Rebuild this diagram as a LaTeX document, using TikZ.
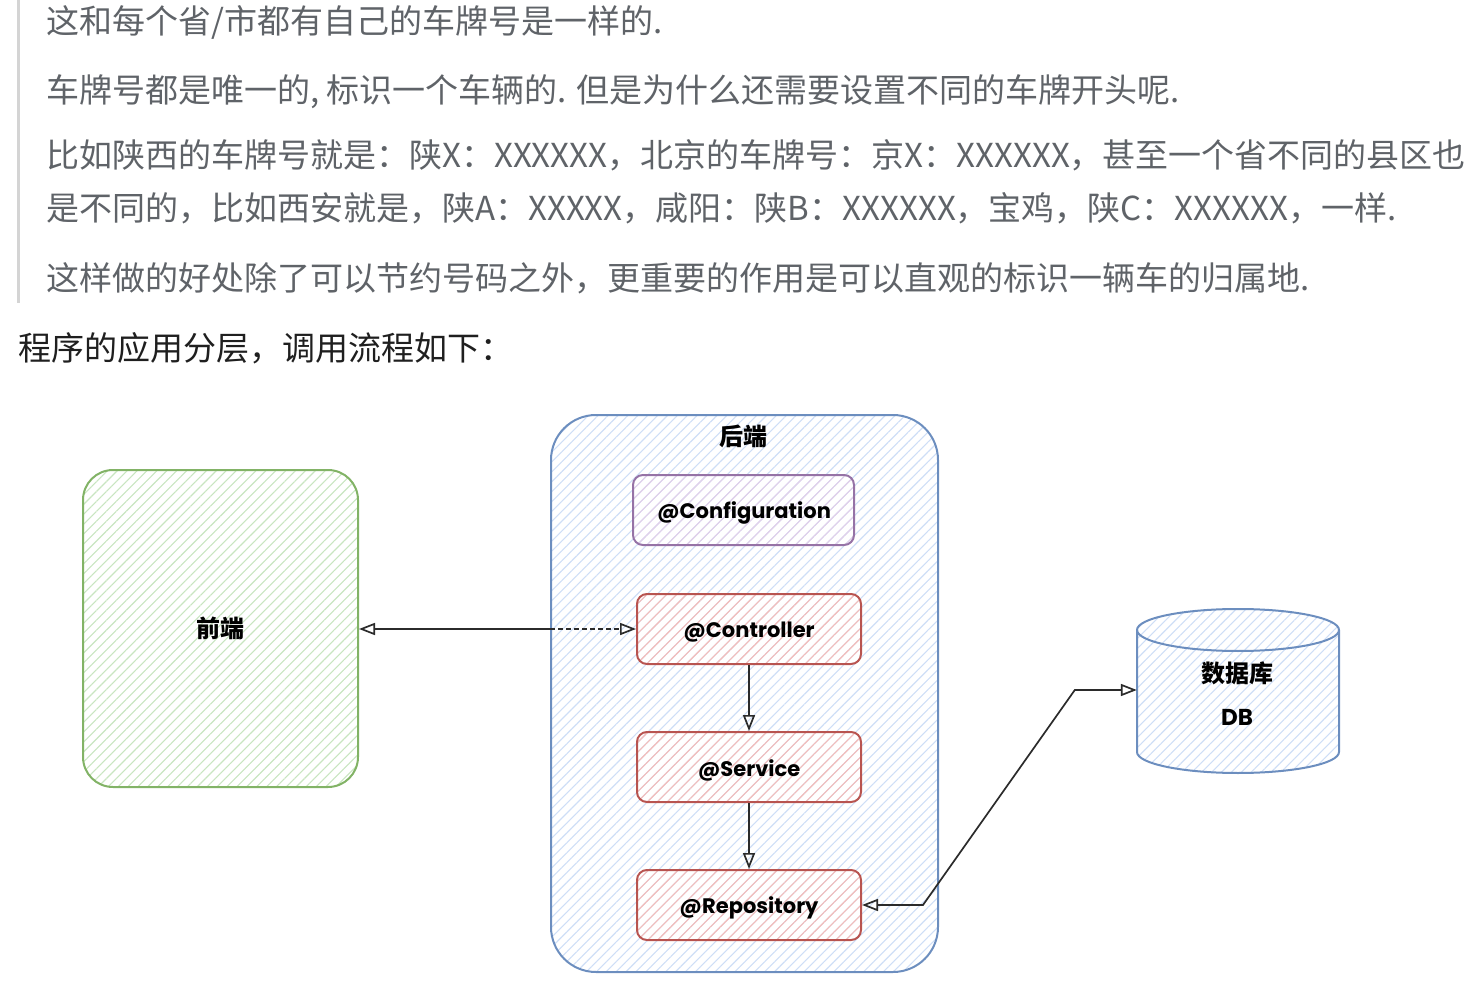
\documentclass[tikz,border=0pt]{standalone}
\usepackage{fontspec}
\newfontfamily\cjk{Noto Sans CJK SC}
\newfontfamily\lbl{Poppins}
\usetikzlibrary{arrows.meta,patterns.meta,calc}
\definecolor{bodygray}{HTML}{5F6368}
\definecolor{headblack}{HTML}{1F1F1F}
\definecolor{barg}{HTML}{D4D4D4}
\definecolor{greenS}{HTML}{82B366}
\definecolor{greenH}{HTML}{C8E5C0}
\definecolor{blueS}{HTML}{6C8EBF}
\definecolor{blueH}{HTML}{CEDEF6}
\definecolor{purpS}{HTML}{9673A6}
\definecolor{purpH}{HTML}{E2D0EA}
\definecolor{redS}{HTML}{B85450}
\definecolor{redH}{HTML}{F4BDBA}
\definecolor{lineC}{HTML}{2B2B2B}
\tikzset{otip/.tip={Triangle[open, length=16pt, width=12pt, line width=1.7pt]}}
\begin{document}
\begin{tikzpicture}[x=1pt,y=-1pt,
  bodytxt/.style={anchor=west, inner sep=0pt, text=bodygray, font=\cjk\fontsize{33}{39}\selectfont},
  headtxt/.style={anchor=west, inner sep=0pt, text=headblack, font=\cjk\fontsize{33}{39}\selectfont},
  hatch/.style={pattern={Lines[angle=45,distance=7pt,line width=1.1pt]}, pattern color=#1},
  box/.style={draw=#1S, hatch=#1H, line width=2pt, inner sep=0pt},
  cjklbl/.style={font=\cjk\bfseries\fontsize{24}{28}\selectfont, text=black, inner sep=0pt},
  annlbl/.style={font=\lbl\bfseries\fontsize{21}{25}\selectfont, text=black},
  lblnode/.style={annlbl, inner sep=0pt},
  layer/.style={box=red, rounded corners=10pt, minimum width=224pt, minimum height=70pt},
  conn/.style={draw=lineC, line width=1.7pt}
]
\useasboundingbox (0,0) rectangle (1468,984);

% quote bar and text
\fill[barg] (16.5,0) rectangle (19.5,303);
\node[bodytxt] (t1) at (46,22) {这和每个省/市都有自己的车牌号是一样的.};
\node[bodytxt] (t2) at (46,92) {车牌号都是唯一的, 标识一个车辆的. 但是为什么还需要设置不同的车牌开头呢.};
\node[bodytxt] (t3) at (46,155) {比如陕西的车牌号就是：陕X：XXXXXX，北京的车牌号：京X：XXXXXX，甚至一个省不同的县区也};
\node[bodytxt] (t4) at (46,208) {是不同的，比如西安就是，陕A：XXXXX，咸阳：陕B：XXXXXX，宝鸡，陕C：XXXXXX，一样.};
\node[bodytxt] (t5) at (46,278) {这样做的好处除了可以节约号码之外，更重要的作用是可以直观的标识一辆车的归属地.};
\node[headtxt] (h) at (18,348) {程序的应用分层，调用流程如下：};

% frontend
\node[box=green, rounded corners=30pt, minimum width=275pt, minimum height=317pt, cjklbl] (fe) at (220.5,628.5) {前端};

% backend container
\node[box=blue, rounded corners=45pt, minimum width=387pt, minimum height=557pt] (be) at (744.5,693.5) {};
\node[cjklbl] (betitle) at (743,436) {后端};

% layers
\node[box=purp, rounded corners=10pt, minimum width=221pt, minimum height=70pt] (cfg) at (743.5,510) {};
\node[lblnode] (cfgl) at (744,513) {@Configuration};
\node[layer] (ctrl) at (749,629) {};
\node[lblnode] (ctrll) at (749,632) {@Controller};
\node[layer] (svc) at (749,767) {};
\node[lblnode] (svcl) at (749,770) {@Service};
\node[layer] (repo) at (749,905) {};
\node[lblnode] (repol) at (749,908) {@Repository};

% database cylinder
\path[hatch=blueH] (1137,630) -- (1137,752) arc[start angle=180, end angle=0, x radius=101, y radius=21]
   -- (1339,630) arc[start angle=0, end angle=-180, x radius=101, y radius=21] -- cycle;
\draw[blueS, line width=2pt] (1137,630) -- (1137,752) arc[start angle=180, end angle=0, x radius=101, y radius=21]
   -- (1339,630) arc[start angle=0, end angle=-180, x radius=101, y radius=21] -- cycle;
\draw[blueS, line width=2pt] (1137,630) arc[start angle=180, end angle=0, x radius=101, y radius=21];
\node[minimum width=202pt, minimum height=164pt, inner sep=0pt] (db) at (1238,690) {};
\node[cjklbl] (dbl1) at (1237,673) {数据库};
\node[lblnode, font=\lbl\bfseries\fontsize{23}{27}\selectfont] (dbl2) at (1237,717) {DB};

% connectors
\coordinate (bedge) at (be.west |- ctrl.west);
\draw[conn, otip-] (fe.east |- ctrl.west) -- (bedge);
\draw[conn, dash pattern=on 5pt off 3pt, -otip] (bedge) -- (ctrl.west);
\draw[conn, -otip] (ctrl.south) -- (svc.north);
\draw[conn, -otip] (svc.south) -- (repo.north);
\coordinate (k1) at ($(repo.east)+(61,0)$);
\coordinate (k2) at ($(db.west)+(-62,0)$);
\draw[conn, otip-otip] (repo.east) -- (k1) -- (k2) -- (db.west);
\end{tikzpicture}
\end{document}
